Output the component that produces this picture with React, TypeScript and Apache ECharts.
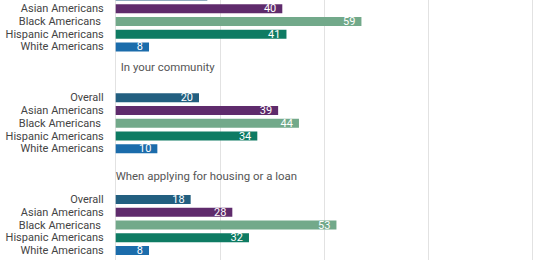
import React, { useEffect, useRef } from "react";
import * as echarts from "echarts";

// Subgroup rows shown in every panel
const subgroups = ["Overall", "Asian Americans", "Black Americans ", "Hispanic Americans", "White Americans"];
const subgroupColors = ["#225f80", "#5f2b6c", "#72a98a", "#0e7b63", "#1b6cab"];

// Panel headers (the first panel's header is outside the visible crop)
const headers = ["", "In your community", "When applying for housing or a loan"];

// Values (percent) per panel, in subgroup order
const panelTop = [22, 40, 59, 41, 8];
const panelCommunity = [20, 39, 44, 34, 10];
const panelHousing = [18, 28, 53, 32, 8];

const panels = [panelTop, panelCommunity, panelHousing];

// x axis ticks
const xTicks = [0, 25, 50, 75, 100];

export default function App() {
  const ref = useRef<HTMLDivElement>(null);

  useEffect(() => {
    if (!ref.current) return;
    const chart = echarts.init(ref.current, undefined, { renderer: "svg" });

    // Build rows: 5 bars per panel, 3 spacer rows between panels (header in the middle one)
    const rowLabels: string[] = [];
    const valueData: any[] = [];
    const headerData: any[] = [];
    const headerOffsets = [
      [0, 0],
      [5, -5],
      [0, 2],
    ];
    panels.forEach((vals, p) => {
      if (p > 0) {
        for (let k = 0; k < 3; k++) {
          rowLabels.push("");
          valueData.push(null);
          if (k === 1) {
            headerData.push({
              value: 0,
              label: {
                show: true,
                formatter: headers[p],
                offset: headerOffsets[p],
              },
            });
          } else {
            headerData.push(null);
          }
        }
      }
      vals.forEach((v, i) => {
        rowLabels.push(subgroups[i]);
        valueData.push({ value: v, itemStyle: { color: subgroupColors[i] } });
        headerData.push(null);
      });
    });
    // trailing blank row
    rowLabels.push("");
    valueData.push(null);
    headerData.push(null);

    chart.setOption({
      animation: false,
      grid: { left: 115.7, right: 13.8, top: 9.74, bottom: 10.42, containLabel: false },
      xAxis: {
        type: "value",
        min: xTicks[0],
        max: xTicks[xTicks.length - 1],
        interval: 25,
        axisLabel: { show: false },
        axisLine: { show: false },
        axisTick: { show: false },
        splitLine: { show: true, lineStyle: { color: "#e2e2e2", width: 1 } },
      },
      yAxis: {
        type: "category",
        inverse: true,
        data: rowLabels,
        axisLine: { show: false },
        axisTick: { show: false },
        axisLabel: {
          margin: 12,
          color: "#444444",
          fontSize: 11,
          fontFamily: "Roboto",
          interval: 0,
        },
      },
      series: [
        {
          type: "bar",
          data: valueData,
          barWidth: 9,
          barGap: "-100%",
          label: {
            show: true,
            position: "insideRight",
            distance: 6,
            color: "#ffffff",
            fontSize: 11,
            fontFamily: "Roboto",
          },
        },
        {
          type: "bar",
          data: headerData,
          barWidth: 9,
          barGap: "-100%",
          itemStyle: { color: "transparent" },
          label: {
            show: false,
            position: "right",
            distance: 0,
            color: "#555555",
            fontSize: 11.4,
            fontFamily: "Roboto",
          },
        },
      ],
    });

    return () => chart.dispose();
  }, []);

  return (
    <div
      ref={ref}
      style={{ position: "absolute", left: 0, top: -20, width: 546, height: 300 }}
    />
  );
}
